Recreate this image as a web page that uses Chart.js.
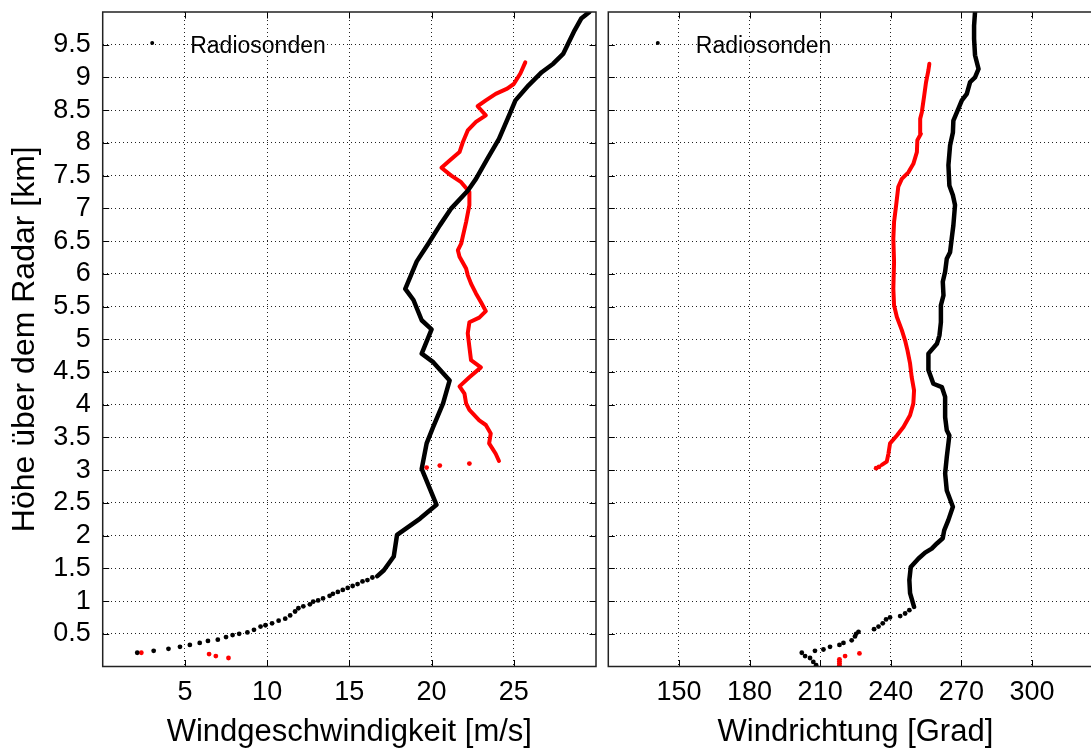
<!DOCTYPE html>
<html lang="de">
  <head>
    <meta charset="UTF-8" />
    <title>Windprofil Radiosonden</title>
    <script src="https://cdn.jsdelivr.net/npm/chart.js"></script>
    <style>
      html, body { margin: 0; padding: 0; background: #fff; overflow: hidden; }
      #speedChart { position: absolute; left: 0; top: 0; }
      #dirChart { position: absolute; left: 600px; top: 0; }
    </style>
  </head>
  <body>
    <canvas id="speedChart" width="600" height="749"></canvas>
    <canvas id="dirChart" width="510" height="749"></canvas>
    <script>
      // tick values
      const heightTicks = [0.5, 1, 1.5, 2, 2.5, 3, 3.5, 4, 4.5, 5, 5.5, 6, 6.5, 7, 7.5, 8, 8.5, 9, 9.5];
      const speedTicks = [5, 10, 15, 20, 25];
      const dirTicks = [150, 180, 210, 240, 270, 300];

      // radiosonde wind speed (dense part, top -> down)
      const sondeSpeed = [29.6, 29.1, 28.7, 28.0, 27.4, 26.7, 25.9, 25.1, 24.8, 24.1,
        23.4, 22.7, 22.2, 21.2, 20.5, 19.8, 19.1, 18.4, 18.9, 19.4,
        20.0, 19.4, 20.1, 21.1, 20.7, 20.1, 19.7, 19.4, 20.3, 19.3,
        17.9, 17.7, 17.1, 16.7];
      const sondeSpeedHeight = [10.0, 9.90, 9.72, 9.36, 9.21, 9.08, 8.88, 8.65, 8.47, 8.06,
        7.76, 7.45, 7.27, 7.00, 6.74, 6.46, 6.19, 5.77, 5.60, 5.29,
        5.15, 4.78, 4.65, 4.37, 4.02, 3.66, 3.41, 3.02, 2.47, 2.26,
        2.01, 1.68, 1.47, 1.38];
      // radiosonde wind speed, single levels near the ground
      const sondeSpeedLow = [16.4, 16.1, 15.8, 15.5, 15.2, 14.9, 14.6, 14.3, 14.0, 13.8,
        13.4, 13.1, 12.8, 12.6, 12.2, 11.9, 11.7, 11.4, 11.1, 10.7,
        10.3, 9.9, 9.6, 9.2, 8.8, 8.3, 7.9, 7.5, 7.0, 6.4,
        5.9, 5.3, 4.7, 4.0, 3.1, 2.1];
      const sondeSpeedLowHeight = [1.36, 1.32, 1.30, 1.26, 1.23, 1.20, 1.17, 1.14, 1.11, 1.08,
        1.04, 1.01, 0.99, 0.95, 0.92, 0.89, 0.84, 0.78, 0.73, 0.70,
        0.66, 0.63, 0.61, 0.56, 0.52, 0.50, 0.48, 0.45, 0.41, 0.39,
        0.36, 0.33, 0.30, 0.27, 0.24, 0.21];

      // radar wind speed (red)
      const radarSpeed = [24.1, 23.9, 23.5, 23.6, 23.3, 22.9, 22.3, 22.1, 22.0, 21.7,
        22.3, 23.0, 22.4, 22.3, 22.2, 22.3, 22.9, 23.3, 23.0, 22.7,
        22.4, 22.2, 22.1, 21.7, 21.6, 21.8, 22.1, 22.3, 22.3, 21.8,
        21.2, 20.6, 21.1, 21.7, 21.9, 22.2, 22.7, 23.3, 22.8, 23.3,
        23.9, 24.6, 25.0, 25.4, 25.7];
      const radarSpeedHeight = [3.14, 3.25, 3.41, 3.56, 3.69, 3.76, 3.92, 4.02, 4.17, 4.28,
        4.42, 4.57, 4.68, 4.88, 5.09, 5.26, 5.33, 5.43, 5.57, 5.70,
        5.85, 5.98, 6.08, 6.26, 6.36, 6.46, 6.79, 7.05, 7.25, 7.40,
        7.50, 7.62, 7.73, 7.86, 8.01, 8.19, 8.32, 8.42, 8.56, 8.65,
        8.75, 8.83, 8.90, 9.06, 9.23];
      const radarSpeedDots = [2.35, 6.47, 6.88, 7.65, 19.7, 20.5, 22.3];
      const radarSpeedDotsHeight = [0.21, 0.19, 0.16, 0.13, 3.04, 3.07, 3.10];

      // radiosonde wind direction
      const sondeDir = [275.8, 275.4, 275.4, 275.8, 277.3, 275.8, 273.7, 272.3, 270.2, 268.7,
        266.6, 266.4, 265.2, 264.5, 264.9, 266.4, 267.3, 266.6, 265.9, 265.2,
        263.8, 263.1, 262.1, 262.4, 261.3, 261.3, 260.7, 259.6, 256.0, 256.0,
        258.1, 261.7, 263.1, 263.1, 263.8, 264.9, 263.8, 263.1, 263.8, 266.4,
        264.5, 262.7, 262.1, 259.6, 257.4, 254.6, 251.8, 248.5, 247.9, 248.2,
        249.9];
      const sondeDirHeight = [10.0, 9.79, 9.59, 9.34, 9.13, 9.00, 8.93, 8.75, 8.65, 8.52,
        8.34, 8.16, 7.96, 7.66, 7.35, 7.20, 7.05, 6.74, 6.54, 6.33,
        6.23, 6.03, 5.88, 5.67, 5.52, 5.26, 5.06, 4.93, 4.78, 4.53,
        4.32, 4.27, 4.12, 3.81, 3.61, 3.53, 3.20, 2.95, 2.69, 2.44,
        2.24, 2.08, 1.96, 1.88, 1.80, 1.74, 1.65, 1.52, 1.32, 1.12,
        0.91];
      const sondeDirLow = [247.9, 246.1, 244.0, 239.7, 238.0, 236.6, 234.8, 232.9, 226.3, 225.3,
        224.8, 223.4, 219.9, 218.2, 214.2, 211.4, 207.8, 202.2, 203.6, 205.7,
        207.1, 208.3];
      const sondeDirLowHeight = [0.86, 0.81, 0.77, 0.75, 0.72, 0.66, 0.61, 0.57, 0.53, 0.50,
        0.46, 0.40, 0.36, 0.33, 0.30, 0.26, 0.24, 0.21, 0.16, 0.13,
        0.07, 0.02];

      // radar wind direction (red)
      const radarDir = [236.2, 238.3, 239.0, 239.7, 242.6, 245.4, 248.2, 249.6, 249.9, 248.9,
        248.2, 247.1, 246.1, 244.7, 242.6, 241.4, 241.1, 241.4, 241.1, 241.4,
        242.3, 243.2, 244.7, 247.5, 249.6, 251.1, 251.3, 252.8, 252.5, 253.2,
        254.2, 255.0, 256.0, 256.4];
      const radarDirHeight = [3.08, 3.13, 3.25, 3.41, 3.53, 3.66, 3.84, 4.02, 4.22, 4.42,
        4.63, 4.83, 4.98, 5.14, 5.34, 5.52, 5.77, 6.18, 6.54, 6.79,
        7.05, 7.33, 7.45, 7.55, 7.68, 7.86, 8.04, 8.14, 8.37, 8.47,
        8.72, 8.93, 9.11, 9.21];
      const radarDirDots = [233.8, 235.0, 218.2, 218.2, 218.2, 218.2, 220.6, 226.7];
      const radarDirDotsHeight = [3.03, 3.05, 0.02, 0.05, 0.08, 0.11, 0.16, 0.20];

      const FONT = '"Liberation Sans", Arial, Helvetica, sans-serif';
      Chart.defaults.font.family = FONT;
      Chart.defaults.color = "#000";

      function pts(xs, ys) {
        return xs.map((x, i) => ({ x: x, y: ys[i] }));
      }

      function lineSet(label, xs, ys, color, width) {
        return {
          label: label,
          data: pts(xs, ys),
          showLine: true,
          borderColor: color,
          borderWidth: width,
          borderJoinStyle: "round",
          borderCapStyle: "round",
          pointRadius: 0,
          fill: false,
        };
      }

      function dotSet(label, xs, ys, color) {
        return {
          label: label,
          data: pts(xs, ys),
          showLine: false,
          pointRadius: 2.4,
          pointBorderWidth: 0,
          pointBackgroundColor: color,
          backgroundColor: color,
        };
      }

      // box, inward ticks (like matlab) and the legend entry
      const axesBox = {
        id: "axesBox",
        afterDraw(chart) {
          const { ctx, chartArea: a, scales } = chart;
          const len = 6.5;
          ctx.save();
          ctx.strokeStyle = "#000";
          ctx.lineWidth = 1;
          ctx.beginPath();
          scales.x.ticks.forEach((t) => {
            const px = Math.round(scales.x.getPixelForValue(t.value)) + 0.5;
            ctx.moveTo(px, a.bottom); ctx.lineTo(px, a.bottom - len);
            ctx.moveTo(px, a.top); ctx.lineTo(px, a.top + len);
          });
          scales.y.ticks.forEach((t) => {
            const py = Math.round(scales.y.getPixelForValue(t.value)) + 0.5;
            ctx.moveTo(a.left, py); ctx.lineTo(a.left + len, py);
            ctx.moveTo(a.right, py); ctx.lineTo(a.right - len, py);
          });
          ctx.stroke();
          ctx.lineWidth = 1.5;
          ctx.strokeStyle = "#222";
          ctx.strokeRect(a.left, a.top, a.right - a.left, a.bottom - a.top);

          // legend
          ctx.fillStyle = "#000";
          ctx.beginPath();
          ctx.arc(a.left + 49.5, a.top + 31, 2, 0, Math.PI * 2);
          ctx.fill();
          ctx.font = "23px " + FONT;
          ctx.textBaseline = "middle";
          ctx.textAlign = "left";
          ctx.fillText(chart.data.datasets[0].label, a.left + 87.5, a.top + 35);
          ctx.restore();
        },
      };

      function makePanel(id, opts) {
        const ctx = document.getElementById(id).getContext("2d");
        return new Chart(ctx, {
          type: "scatter",
          data: { datasets: opts.datasets },
          options: {
            responsive: false,
            animation: false,
            layout: { padding: opts.padding },
            plugins: { legend: { display: false }, tooltip: { enabled: false } },
            scales: {
              x: {
                type: "linear",
                min: opts.xMin,
                max: opts.xMax,
                afterBuildTicks: (s) => { s.ticks = opts.xTicks.map((v) => ({ value: v })); },
                afterFit: (s) => {
                  s.height = 82.5;
                  s.paddingLeft = 0;
                  s.paddingRight = 0;
                },
                grid: { color: "#222", lineWidth: 1, drawTicks: false },
                border: { display: false, dash: [1, 3] },
                ticks: {
                  autoSkip: false, maxRotation: 0, padding: 10, font: { size: 27 },
                  callback: (v) => String(v),
                },
                title: {
                  display: true,
                  text: opts.xTitle,
                  font: { size: 31, lineHeight: 1 },
                  padding: { top: 0, bottom: 1 },
                },
              },
              y: {
                type: "linear",
                min: 0,
                max: 10,
                afterBuildTicks: (s) => { s.ticks = heightTicks.map((v) => ({ value: v })); },
                afterFit: (s) => {
                  s.width = opts.yWidth;
                  s.paddingTop = 0;
                  s.paddingBottom = 0;
                },
                grid: { color: "#222", lineWidth: 1, drawTicks: false },
                border: { display: false, dash: [1, 3] },
                ticks: {
                  display: opts.yLabels, autoSkip: false, padding: 12, font: { size: 27 },
                  callback: (v) => String(v),
                },
                title: {
                  display: opts.yLabels,
                  text: "Höhe über dem Radar [km]",
                  font: { size: 32, lineHeight: 1 },
                  padding: { top: 9, bottom: 0 },
                },
              },
            },
          },
          plugins: [axesBox],
        });
      }

      makePanel("speedChart", {
        padding: { top: 12, right: 3.3, left: 0, bottom: 0 },
        xMin: 0, xMax: 30, xTicks: speedTicks,
        xTitle: "Windgeschwindigkeit [m/s]",
        yWidth: 102.7, yLabels: true,
        datasets: [
          lineSet("Radiosonden", sondeSpeed, sondeSpeedHeight, "#000", 4.5),
          dotSet("Radiosonden (unten)", sondeSpeedLow, sondeSpeedLowHeight, "#000"),
          lineSet("Radar", radarSpeed, radarSpeedHeight, "#ff0000", 4),
          dotSet("Radar (einzeln)", radarSpeedDots, radarSpeedDotsHeight, "#ff0000"),
        ],
      });

      makePanel("dirChart", {
        padding: { top: 12, right: 7.4, left: 8.3, bottom: 0 },
        xMin: 120, xMax: 330, xTicks: dirTicks,
        xTitle: "Windrichtung [Grad]",
        yWidth: 0, yLabels: false,
        datasets: [
          lineSet("Radiosonden", sondeDir, sondeDirHeight, "#000", 4.5),
          dotSet("Radiosonden (unten)", sondeDirLow, sondeDirLowHeight, "#000"),
          lineSet("Radar", radarDir, radarDirHeight, "#ff0000", 4),
          dotSet("Radar (einzeln)", radarDirDots, radarDirDotsHeight, "#ff0000"),
        ],
      });
    </script>
  </body>
</html>
